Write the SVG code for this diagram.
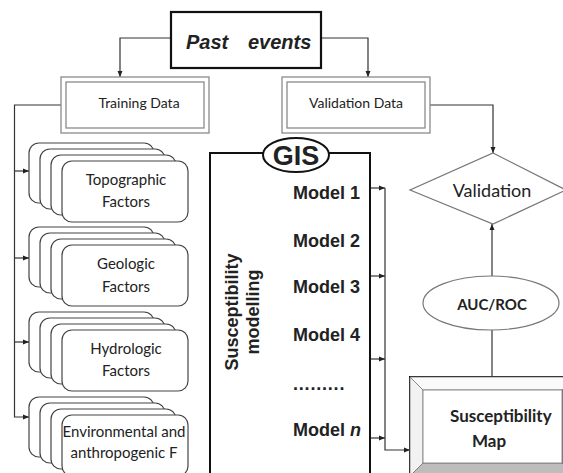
<svg xmlns="http://www.w3.org/2000/svg" width="563" height="473" viewBox="0 0 563 473">
  <style>
    .sans { font-family: "Lato", "Liberation Sans", sans-serif; fill: #222; }
    .arial { font-family: "Liberation Sans", Arial, sans-serif; fill: #222; font-weight: bold; }
    .conn { fill: none; stroke: #333; stroke-width: 1.2; }
    .card { fill: #fff; stroke: #444; stroke-width: 1.2; }
    .dbl { fill: none; stroke: #8a8a8a; stroke-width: 1.3; }
    .shape { fill: #fff; stroke: #777; stroke-width: 1.2; }
  </style>
  <defs>
    <marker id="ah" viewBox="0 0 6 6" refX="6" refY="3" markerWidth="6" markerHeight="6" orient="auto" markerUnits="userSpaceOnUse">
      <path d="M0,0.5 L6,3 L0,5.5 z" fill="#222"/>
    </marker>
    <!-- stack of four rounded cards -->
    <g id="stack">
      <rect class="card" x="29" y="0" width="125" height="60" rx="10"/>
      <rect class="card" x="40" y="6" width="125" height="60" rx="10"/>
      <rect class="card" x="51" y="12" width="125" height="60" rx="10"/>
      <rect class="card" x="62" y="18" width="126" height="61" rx="10"/>
    </g>
  </defs>

  <rect width="563" height="473" fill="#fff"/>

  <!-- connectors -->
  <g id="connectors">
    <path class="conn" d="M171,38 H120 V77" marker-end="url(#ah)"/>
    <path class="conn" d="M321,38 H368 V77" marker-end="url(#ah)"/>
    <path class="conn" d="M61,105 H14.5 V417 H29" marker-end="url(#ah)"/>
    <path class="conn" d="M14.5,171 H29" marker-end="url(#ah)"/>
    <path class="conn" d="M14.5,258 H29" marker-end="url(#ah)"/>
    <path class="conn" d="M14.5,342 H29" marker-end="url(#ah)"/>
    <path class="conn" d="M430,105 H493 V153" marker-end="url(#ah)"/>
    <path class="conn" d="M370,188 H385" marker-end="url(#ah)"/>
    <path class="conn" d="M370,276 H385" marker-end="url(#ah)"/>
    <path class="conn" d="M370,359 H385" marker-end="url(#ah)"/>
    <path class="conn" d="M370,438 H385" marker-end="url(#ah)"/>
    <path class="conn" d="M385,188 V450 H410" marker-end="url(#ah)"/>
    <path class="conn" stroke="#777" d="M492,276 V224" marker-end="url(#ah)"/>
    <path class="conn" stroke="#777" d="M492,330 V377"/>
  </g>

  <!-- top node -->
  <g id="past-events">
    <rect x="171" y="12" width="150" height="56" fill="#fff" stroke="#111" stroke-width="2.2"/>
    <text class="arial" font-style="italic" font-size="20" y="49"><tspan x="186">Past</tspan><tspan x="248">events</tspan></text>
  </g>

  <g id="training-data">
    <rect class="dbl" x="61" y="77" width="148" height="56"/>
    <rect class="dbl" x="66" y="82" width="138" height="46"/>
    <text class="sans" font-size="14" x="139" y="108" text-anchor="middle">Training Data</text>
  </g>

  <g id="validation-data">
    <rect class="dbl" x="282" y="77" width="148" height="56"/>
    <rect class="dbl" x="287" y="82" width="138" height="46"/>
    <text class="sans" font-size="14" x="356" y="108" text-anchor="middle">Validation Data</text>
  </g>

  <!-- factor stacks -->
  <g id="topographic">
    <use href="#stack" y="143"/>
    <text class="sans" font-size="15" text-anchor="middle"><tspan x="126" y="185">Topographic</tspan><tspan x="126" y="207">Factors</tspan></text>
  </g>
  <g id="geologic">
    <use href="#stack" y="227"/>
    <text class="sans" font-size="15" text-anchor="middle"><tspan x="126" y="269">Geologic</tspan><tspan x="126" y="292">Factors</tspan></text>
  </g>
  <g id="hydrologic">
    <use href="#stack" y="312"/>
    <text class="sans" font-size="15" text-anchor="middle"><tspan x="126" y="354">Hydrologic</tspan><tspan x="126" y="376">Factors</tspan></text>
  </g>
  <g id="environmental">
    <use href="#stack" y="397"/>
    <text class="sans" font-size="15" text-anchor="middle"><tspan x="124" y="437">Environmental and</tspan><tspan x="124" y="458">anthropogenic F</tspan></text>
  </g>

  <!-- modelling block -->
  <g id="modelling">
    <rect x="210" y="153" width="160" height="340" fill="#fff" stroke="#111" stroke-width="2"/>
    <text class="arial" font-size="18" text-anchor="middle" transform="translate(238,312) rotate(-90)">Susceptibility</text>
    <text class="arial" font-size="18" text-anchor="middle" transform="translate(259,312) rotate(-90)">modelling</text>
    <text class="arial" font-size="18" x="293" y="199">Model 1</text>
    <text class="arial" font-size="18" x="293" y="247">Model 2</text>
    <text class="arial" font-size="18" x="293" y="293">Model 3</text>
    <text class="arial" font-size="18" x="293" y="341">Model 4</text>
    <text class="arial" font-size="18" x="293" y="390" letter-spacing="0.8">.........</text>
    <text class="arial" font-size="18" x="293" y="436">Model <tspan font-style="italic">n</tspan></text>
  </g>

  <g id="gis">
    <ellipse cx="296" cy="155" rx="33" ry="17" fill="#fff" stroke="#111" stroke-width="2"/>
    <text class="arial" font-size="27" x="296" y="165" text-anchor="middle">GIS</text>
  </g>

  <g id="validation">
    <polygon class="shape" points="493,153 566,190 493,224 410,190"/>
    <text class="sans" font-size="18" x="492" y="197" text-anchor="middle">Validation</text>
  </g>

  <g id="auc-roc">
    <ellipse class="shape" cx="491" cy="303" rx="68" ry="27"/>
    <text class="sans" font-size="15" font-weight="bold" x="492" y="310" text-anchor="middle">AUC/ROC</text>
  </g>

  <!-- bevelled map box -->
  <g id="susceptibility-map">
    <rect x="410" y="377" width="165" height="100" fill="#fff" stroke="#111" stroke-width="2"/>
    <polygon points="410,377 423,390 423,463 410,476" fill="#f2f2f2" stroke="#777" stroke-width="0.8"/>
    <polygon points="410,476 423,463 562,463 575,476" fill="#bdbdbd" stroke="#777" stroke-width="0.8"/>
    <polygon points="575,377 562,390 562,463 575,476" fill="#888" stroke="#777" stroke-width="0.8"/>
    <polygon points="410,377 575,377 562,390 423,390" fill="#fafafa" stroke="#777" stroke-width="0.8"/>
    <rect x="423" y="390" width="139" height="73" fill="#fff" stroke="#777" stroke-width="0.8"/>
    <text class="sans" font-size="17" font-weight="bold" x="450" y="422">Susceptibility</text>
    <text class="sans" font-size="17" font-weight="bold" x="472" y="447">Map</text>
  </g>
</svg>
